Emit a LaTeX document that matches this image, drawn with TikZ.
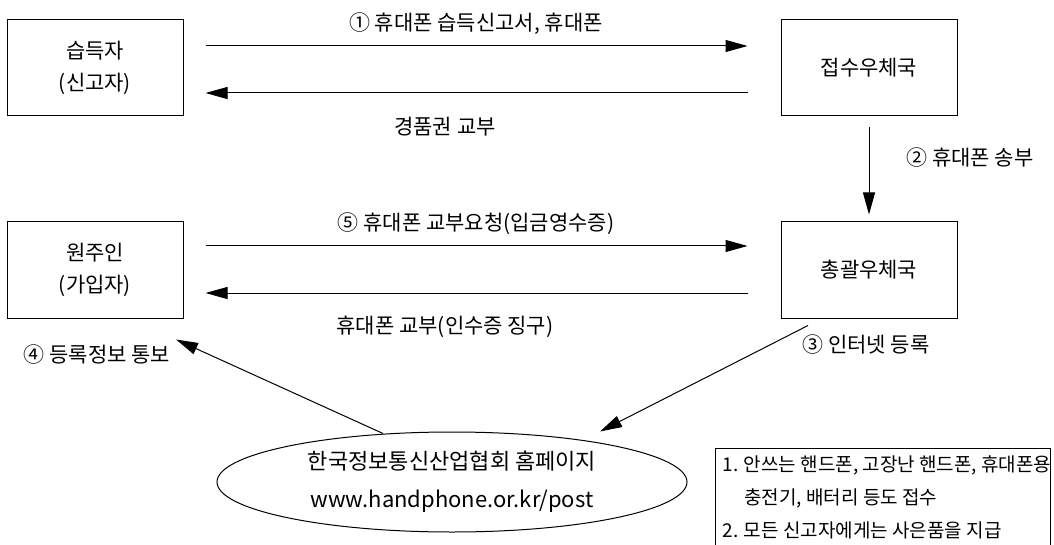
\documentclass[tikz,border=0pt]{standalone}
\usepackage{fontspec}
\newfontfamily\kr{Noto Sans CJK KR}
\usetikzlibrary{arrows.meta,shapes.geometric}

\tikzset{
  box/.style={draw, minimum width=88pt, minimum height=48pt, align=center,
    font=\kr\fontsize{10.5}{16}\selectfont},
  lbl/.style={font=\kr\fontsize{10.5}{13}\selectfont, inner sep=0pt},
  link/.style={-{Triangle[length=11pt,width=6pt]}}
}

\begin{document}
\begin{tikzpicture}[x=0.5pt, y=-0.5pt, line width=0.5pt]
            \useasboundingbox (0,0) rectangle (1054,545);
            \node[box] (finder) at (95,68) {습득자\\(신고자)};
            \node[box] (recv) at (869,68) {접수우체국};
            \node[box] (owner) at (95,270) {원주인\\(가입자)};
            \node[box] (central) at (869,270) {총괄우체국};
            \node[draw, ellipse, inner sep=0pt, minimum width=235pt, minimum height=50pt, align=center,
              font=\kr\fontsize{11}{19}\selectfont] (site) at (452,482) {한국정보통신산업협회 홈페이지\\www.handphone.or.kr/post};

            % row of the finder
            \draw[link] ([shift={(22,-22)}]finder.east) -- ([shift={(-33,-22)}]recv.west);
            \draw[link] ([shift={(-33,25)}]recv.west) -- ([shift={(22,25)}]finder.east);
            \node[lbl] (send) at (476,24) {① 휴대폰 습득신고서, 휴대폰};
            \node[lbl] (gift) at (445,127) {경품권 교부};

            % post offices
            \draw[link] ([yshift=-5.5pt]recv.south) -- ([yshift=3.5pt]central.north);
            \node[lbl] (ship) at (970,158) {② 휴대폰 송부};

            % row of the owner
            \draw[link] ([shift={(22,-24)}]owner.east) -- ([shift={(-33,-24)}]central.west);
            \draw[link] ([shift={(-33,23)}]central.west) -- ([shift={(22,23)}]owner.east);
            \node[lbl] (ask) at (476,224) {⑤ 휴대폰 교부요청(입금영수증)};
            \node[lbl] (hand) at (445,327) {휴대폰 교부(인수증 징구)};

            % web site
            \draw[link] ([shift={(-61,7)}]central.south) -- ([shift={(148,0)}]site.north);
            \draw[link] ([shift={(-69,2)}]site.north) -- ([shift={(81,21)}]owner.south);
            \node[lbl] (reg) at (866,345) {③ 인터넷 등록};
            \node[lbl] (info) at (97,355) {④ 등록정보 통보};

            % note
            \draw (715,560) -- (715,448) -- (1050,448) -- (1050,560);
            \node[anchor=north west, inner sep=0pt, align=left,
              font=\kr\fontsize{9.5}{16.5}\selectfont] (note) at (722,455)
              {1. 안쓰는 핸드폰, 고장난 핸드폰, 휴대폰용\\\hspace*{11pt}충전기, 배터리 등도 접수\\2. 모든 신고자에게는 사은품을 지급};
        \end{tikzpicture}
\end{document}
